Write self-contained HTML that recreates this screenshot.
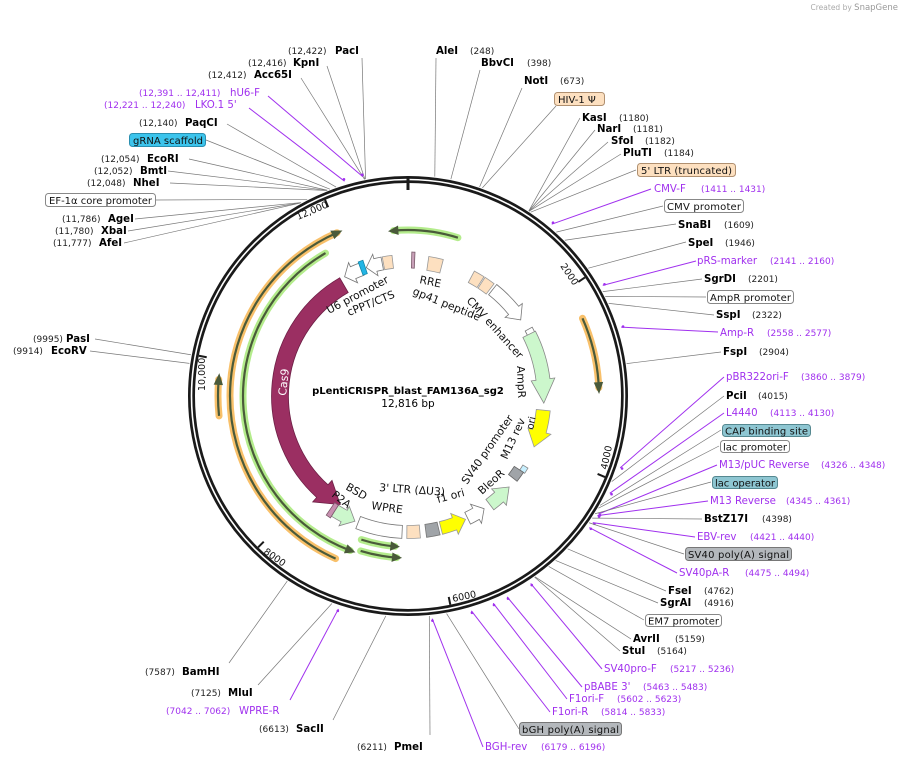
<!DOCTYPE html>
<html><head><meta charset="utf-8"><style>
html,body{margin:0;padding:0;background:#fff;width:907px;height:763px;overflow:hidden}
svg{display:block}
text{font-family:"DejaVu Sans","Liberation Sans",sans-serif}
.e{font-weight:bold;font-size:10.2px;fill:#000}
.n{font-size:9px;fill:#222}
.p{font-size:10.2px;fill:#a030ee}
.pn{font-size:9px;fill:#a030ee}
.f{font-size:10.8px;fill:#111}
.bx{font-size:10px;fill:#111}
</style></head><body>
<svg id="s" width="907" height="763" viewBox="0 0 907 763" xmlns="http://www.w3.org/2000/svg">
<g id="lines"></g>
<g id="shapes"></g>
<text x="898" y="10" text-anchor="end" style="font-size:7.5px;fill:#aaa">Created by <tspan style="font-size:8.5px;fill:#999">SnapGene</tspan></text>

<text x="408" y="394" text-anchor="middle" style="font-size:10px;font-weight:bold">pLentiCRISPR_blast_FAM136A_sg2</text>
<text x="408" y="407" text-anchor="middle" style="font-size:10.5px">12,816 bp</text>

<text class="f" style="font-size:9.5px" transform="translate(298,220) rotate(-23)">12,000</text>
<text class="f" style="font-size:9.5px" transform="translate(560,266) rotate(56)">2000</text>
<text class="f" style="font-size:9.5px" transform="translate(607,470) rotate(-78)">4000</text>
<text class="f" style="font-size:9.5px" transform="translate(453,602) rotate(-12)">6000</text>
<text class="f" style="font-size:9.5px" transform="translate(263,553) rotate(35)">8000</text>
<text class="f" style="font-size:9.5px" transform="translate(205,391) rotate(-90)">10,000</text>

<text class="f" transform="translate(329,314) rotate(-28)">U6 promoter</text>
<text class="f" transform="translate(349,316) rotate(-22)">cPPT/CTS</text>
<text class="f" transform="translate(419,283) rotate(12)">RRE</text>
<text class="f" transform="translate(412,294) rotate(22)">gp41 peptide</text>
<text class="f" transform="translate(466,301) rotate(48)">CMV enhancer</text>
<text class="f" transform="translate(517,366) rotate(88)">AmpR</text>
<text class="f" transform="translate(533,430) rotate(-78)" style="font-size:10px">ori</text>
<text class="f" transform="translate(467,485) rotate(-55)">SV40 promoter</text>
<text class="f" transform="translate(507,460) rotate(-65)">M13 rev</text>
<text class="f" transform="translate(482,495) rotate(-42)">BleoR</text>
<text class="f" transform="translate(438,503) rotate(-15)">f1 ori</text>
<text class="f" transform="translate(379,491) rotate(4)">3' LTR (ΔU3)</text>
<text class="f" transform="translate(371,509) rotate(8)">WPRE</text>
<text class="f" transform="translate(345,489) rotate(30)">BSD</text>
<text class="f" transform="translate(331,496) rotate(38)">P2A</text>
<text transform="translate(286,396) rotate(-84)" style="font-size:11px;fill:#fff">Cas9</text>

<text class="n" x="288" y="54">(12,422)</text><text class="e" x="335" y="54">PacI</text>
<text class="n" x="248" y="66">(12,416)</text><text class="e" x="293" y="66">KpnI</text>
<text class="n" x="208" y="78">(12,412)</text><text class="e" x="254" y="78">Acc65I</text>
<text class="pn" x="139" y="96">(12,391 .. 12,411)</text><text class="p" x="230" y="96">hU6-F</text>
<text class="pn" x="104" y="108">(12,221 .. 12,240)</text><text class="p" x="195" y="108">LKO.1 5'</text>
<text class="n" x="139" y="126">(12,140)</text><text class="e" x="185" y="126">PaqCI</text>
<rect x="129.5" y="133.5" width="76" height="13" rx="3" fill="#3cc4ec" stroke="#2a8fb0"/><text class="bx" x="133" y="144" textLength="70">gRNA scaffold</text>
<text class="n" x="101" y="162">(12,054)</text><text class="e" x="147" y="162">EcoRI</text>
<text class="n" x="94" y="174">(12,052)</text><text class="e" x="140" y="174">BmtI</text>
<text class="n" x="87" y="186">(12,048)</text><text class="e" x="133" y="186">NheI</text>
<rect x="45.5" y="193.5" width="110" height="13" rx="3" fill="#fff" stroke="#888"/><text class="bx" x="49" y="204" textLength="103">EF-1α core promoter</text>
<text class="n" x="62" y="222">(11,786)</text><text class="e" x="108" y="222">AgeI</text>
<text class="n" x="55" y="234">(11,780)</text><text class="e" x="101" y="234">XbaI</text>
<text class="n" x="53" y="246">(11,777)</text><text class="e" x="99" y="246">AfeI</text>
<text class="n" x="33" y="342">(9995)</text><text class="e" x="66" y="342">PasI</text>
<text class="n" x="13" y="354">(9914)</text><text class="e" x="51" y="354">EcoRV</text>
<text class="n" x="145" y="675">(7587)</text><text class="e" x="182" y="675">BamHI</text>
<text class="n" x="191" y="696">(7125)</text><text class="e" x="228" y="696">MluI</text>
<text class="pn" x="166" y="714">(7042 .. 7062)</text><text class="p" x="239" y="714">WPRE-R</text>
<text class="n" x="259" y="732">(6613)</text><text class="e" x="296" y="732">SacII</text>
<text class="n" x="357" y="750">(6211)</text><text class="e" x="394" y="750">PmeI</text>

<text class="e" x="436" y="54">AleI</text><text class="n" x="470" y="54">(248)</text>
<text class="e" x="481" y="66">BbvCI</text><text class="n" x="527" y="66">(398)</text>
<text class="e" x="524" y="84">NotI</text><text class="n" x="560" y="84">(673)</text>
<rect x="554.5" y="92.5" width="50" height="13" rx="3" fill="#fde0c0" stroke="#b09070"/><text class="bx" x="558" y="103">HIV-1 Ψ</text>
<text class="e" x="582" y="121">KasI</text><text class="n" x="619" y="121">(1180)</text>
<text class="e" x="597" y="132">NarI</text><text class="n" x="633" y="132">(1181)</text>
<text class="e" x="611" y="144">SfoI</text><text class="n" x="645" y="144">(1182)</text>
<text class="e" x="623" y="156">PluTI</text><text class="n" x="664" y="156">(1184)</text>
<rect x="637.5" y="163.5" width="98" height="13" rx="3" fill="#fde0c0" stroke="#b09070"/><text class="bx" x="641" y="174" textLength="91">5' LTR (truncated)</text>
<text class="p" x="654" y="192">CMV-F</text><text class="pn" x="701" y="192">(1411 .. 1431)</text>
<rect x="664.5" y="199.5" width="79" height="13" rx="3" fill="#fff" stroke="#888"/><text class="bx" x="667" y="210" textLength="74">CMV promoter</text>
<text class="e" x="678" y="228">SnaBI</text><text class="n" x="724" y="228">(1609)</text>
<text class="e" x="688" y="246">SpeI</text><text class="n" x="725" y="246">(1946)</text>
<text class="p" x="697" y="264">pRS-marker</text><text class="pn" x="770" y="264">(2141 .. 2160)</text>
<text class="e" x="704" y="282">SgrDI</text><text class="n" x="748" y="282">(2201)</text>
<rect x="707.5" y="290.5" width="86" height="13" rx="3" fill="#fff" stroke="#888"/><text class="bx" x="710" y="301" textLength="81">AmpR promoter</text>
<text class="e" x="716" y="318">SspI</text><text class="n" x="752" y="318">(2322)</text>
<text class="p" x="720" y="336">Amp-R</text><text class="pn" x="767" y="336">(2558 .. 2577)</text>
<text class="e" x="723" y="355">FspI</text><text class="n" x="759" y="355">(2904)</text>
<text class="p" x="726" y="380">pBR322ori-F</text><text class="pn" x="801" y="380">(3860 .. 3879)</text>
<text class="e" x="726" y="399">PciI</text><text class="n" x="758" y="399">(4015)</text>
<text class="p" x="726" y="416">L4440</text><text class="pn" x="770" y="416">(4113 .. 4130)</text>
<rect x="722.5" y="424.5" width="88" height="12" rx="3" fill="#8ec6d2" stroke="#558890"/><text class="bx" x="725" y="434.5" textLength="83">CAP binding site</text>
<rect x="720.5" y="440.5" width="69" height="12" rx="3" fill="#fff" stroke="#888"/><text class="bx" x="723" y="450.5" textLength="64">lac promoter</text>
<text class="p" x="719" y="468">M13/pUC Reverse</text><text class="pn" x="821" y="468">(4326 .. 4348)</text>
<rect x="712.5" y="476.5" width="65" height="12" rx="3" fill="#8ec6d2" stroke="#558890"/><text class="bx" x="715" y="486.5" textLength="60">lac operator</text>
<text class="p" x="710" y="504">M13 Reverse</text><text class="pn" x="786" y="504">(4345 .. 4361)</text>
<text class="e" x="704" y="522">BstZ17I</text><text class="n" x="762" y="522">(4398)</text>
<text class="p" x="697" y="540">EBV-rev</text><text class="pn" x="750" y="540">(4421 .. 4440)</text>
<rect x="685.5" y="547.5" width="106" height="13" rx="3" fill="#b4b8bc" stroke="#777"/><text class="bx" x="688" y="558" textLength="101">SV40 poly(A) signal</text>
<text class="p" x="679" y="576">SV40pA-R</text><text class="pn" x="745" y="576">(4475 .. 4494)</text>
<text class="e" x="668" y="594">FseI</text><text class="n" x="704" y="594">(4762)</text>
<text class="e" x="660" y="606">SgrAI</text><text class="n" x="704" y="606">(4916)</text>
<rect x="645.5" y="614.5" width="76" height="12" rx="3" fill="#fff" stroke="#888"/><text class="bx" x="648" y="624.5" textLength="71">EM7 promoter</text>
<text class="e" x="633" y="642">AvrII</text><text class="n" x="675" y="642">(5159)</text>
<text class="e" x="622" y="654">StuI</text><text class="n" x="657" y="654">(5164)</text>
<text class="p" x="604" y="672">SV40pro-F</text><text class="pn" x="670" y="672">(5217 .. 5236)</text>
<text class="p" x="584" y="690">pBABE 3'</text><text class="pn" x="643" y="690">(5463 .. 5483)</text>
<text class="p" x="569" y="702">F1ori-F</text><text class="pn" x="617" y="702">(5602 .. 5623)</text>
<text class="p" x="552" y="715">F1ori-R</text><text class="pn" x="601" y="715">(5814 .. 5833)</text>
<rect x="519.5" y="722.5" width="102" height="13" rx="3" fill="#b4b8bc" stroke="#777"/><text class="bx" x="522" y="733" textLength="97">bGH poly(A) signal</text>
<text class="p" x="485" y="750">BGH-rev</text><text class="pn" x="541" y="750">(6179 .. 6196)</text>
</svg>
<script>
var NS="http://www.w3.org/2000/svg",CX=408,CY=396,T=12816;
function P(r,a){a=a*Math.PI/180;return [CX+r*Math.sin(a),CY-r*Math.cos(a)];}
function el(g,n,at){var e=document.createElementNS(NS,n);for(var k in at)e.setAttribute(k,at[k]);document.getElementById(g).appendChild(e);return e;}
function arc(r,a1,a2){var p=P(r,a1),q=P(r,a2),l=Math.abs(a2-a1)>180?1:0,sw=a2>a1?1:0;return "M"+p[0]+" "+p[1]+" A"+r+" "+r+" 0 "+l+" "+sw+" "+q[0]+" "+q[1];}
function pt(p){return p[0].toFixed(1)+" "+p[1].toFixed(1);}
function feat(r,a1,a2,w,fill,stroke,dir,hl){
 var ri=r-w/2,ro=r+w/2,d;
 if(!dir){var q1=P(ro,a1),q2=P(ro,a2),q3=P(ri,a2),q4=P(ri,a1);
  d="M"+pt(q1)+" A"+ro+" "+ro+" 0 0 "+(a2>a1?1:0)+" "+pt(q2)+" L"+pt(q3)+" A"+ri+" "+ri+" 0 0 "+(a2>a1?0:1)+" "+pt(q4)+"Z";}
 else{var s=a2>a1?1:-1,hlen=hl||Math.min(Math.abs(a2-a1)*0.45,1400/r*0.9),b=a2-s*hlen,hw=w*0.85;
  var l=Math.abs(b-a1)>180?1:0;
  d="M"+pt(P(ro,a1))+" A"+ro+" "+ro+" 0 "+l+" "+(s>0?1:0)+" "+pt(P(ro,b))+" L"+pt(P(r+hw,b))+" L"+pt(P(r,a2))+" L"+pt(P(r-hw,b))+" L"+pt(P(ri,b))+" A"+ri+" "+ri+" 0 "+l+" "+(s>0?0:1)+" "+pt(P(ri,a1))+"Z";}
 el("shapes","path",{d:d,fill:fill,stroke:stroke,"stroke-width":0.8});
}
function line(g,x1,y1,x2,y2,c,w){el(g,"line",{x1:x1,y1:y1,x2:x2,y2:y2,stroke:c,"stroke-width":w||0.8});}
var L=[[362,58,12422],[327,66,12416],[301,78,12412],[268,96,12401,1],[249,108,12230,1],[227,124,12140],[206,140,12080],[189,159,12054],[168,171,12052],[170,183,12048],[156,200,11850],[135,219,11786],[128,231,11780],[124,243,11777],[95,339,9995],[90,351,9914],[229,663,7587],[258,685,7125],[290,700,7052,1],[333,720,6613],[430,735,6211],
[436,58,248],[480,70,398],[522,88,673],[556,106,700],[580,118,1180],[595,130,1181],[608,142,1182],[621,154,1184],[636,170,1200],[651,189,1421,1],[663,206,1500],[676,224,1609],[686,242,1946],[696,261,2150,1],[702,279,2201],[706,297,2250],[714,315,2322],[718,332,2567,1],[721,352,2904],[724,377,3870,1],[724,396,4015],[724,413,4121,1],[721,430,4260],[719,446,4290],[717,465,4337,1],[711,482,4350],[708,501,4353,1],[702,519,4398],[695,537,4430,1],[684,554,4450],[677,573,4485,1],[666,591,4762],[658,603,4916],[644,620,5000],[631,639,5159],[620,651,5164],[602,669,5226,1],[582,687,5473,1],[567,699,5612,1],[550,712,5823,1],[519,729,6050],[483,747,6187,1]];
L.forEach(function(a){var an=a[2]/T*360,q=P(a[3]?224:221,an);var c=a[3]?"#a030ee":"#777";line("lines",a[0],a[1],q[0],q[1],c,a[3]?1:0.7);if(a[3]){var m=P(226,an);el("lines","circle",{cx:m[0],cy:m[1],r:1.3,fill:"#a030ee"});}});
el("shapes","circle",{cx:CX,cy:CY,r:216.5,fill:"none",stroke:"#1a1a1a","stroke-width":7});
el("shapes","circle",{cx:CX,cy:CY,r:216.5,fill:"none",stroke:"#fff","stroke-width":1.6});
var t=P(206,0),t2=P(220,0);line("shapes",t[0],t[1],t2[0],t2[1],"#1a1a1a",3);
[2000,4000,6000,8000,10000,12000].forEach(function(b){var a=b/T*360,p=P(205,a),q=P(213,a);line("shapes",p[0],p[1],q[0],q[1],"#1a1a1a",2);});
function glowArc(r,a1,a2,glow){var d=arc(r,a1,a2);
 el("shapes","path",{d:d,fill:"none",stroke:glow,"stroke-width":7,"stroke-linecap":"round"});
 el("shapes","path",{d:d,fill:"none",stroke:"#4a5a3a","stroke-width":2.2});
 var s=a2>a1?1:-1,tip=P(r,a2+s*1.5),b1=P(r+4,a2-s*1.5),b2=P(r-4,a2-s*1.5);
 el("shapes","path",{d:"M"+pt(b1)+" L"+pt(tip)+" L"+pt(b2)+"Z",fill:"#4a5a3a",stroke:"#4a5a3a","stroke-width":1});}
var OR="#f8c06a",GR="#b4ec8c";
glowArc(178,204,336.5,OR);
glowArc(165,-30,-159.5,GR);
glowArc(166,17.5,-5,GR);
glowArc(190,264,275,OR);
glowArc(191,66,87.5,OR);
glowArc(151,198,185,GR);
glowArc(162,197,184,GR);
feat(128,330,212,17,"#9b2f62","#6d1f45",1,10);
feat(135,340,332,13,"#fff","#777",1,4);
feat(136,339.6,341.6,14,"#22b5e5","#1188aa",0);
feat(135,349,342,13,"#fff","#777",1,4);
feat(135,349.5,353.5,13,"#fde0c0","#999",0);
feat(136,1.5,2.8,16,"#c8a0b8","#7a5a6a",0);
feat(134,8.5,14.5,14,"#fde0c0","#999",0);
feat(135,28,32.5,13,"#fde0c0","#999",0);
feat(135,33,37.5,13,"#fde0c0","#999",0);
feat(136,38.5,56,13,"#fff","#777",1,5);
feat(138,61,67,8,"#fff","#777",0);
feat(136,63,93,14,"#ccf7cc","#888",1,10);
feat(136,96,112,14,"#ffff00","#999",1,7);
feat(137,121,123.5,6,"#c8f0ff","#888",0);
feat(133,123.5,128,11,"#a0a4a8","#666",0);
feat(136,143,132,13,"#ccf7cc","#888",1,6);
feat(136,154,146,13,"#fff","#777",1,4);
feat(136,166,155,13,"#ffff00","#999",1,5);
feat(136,167,172.5,13,"#a0a4a8","#777",0);
feat(136,175,180.5,13,"#fde0c0","#999",0);
feat(136,182.5,201.5,13,"#fff","#777",0);
feat(136,212.5,203,13,"#ccf7cc","#888",1,5);
feat(137,212.5,214.5,15,"#c890b0","#7a5a6a",0);
</script>
</body></html>
